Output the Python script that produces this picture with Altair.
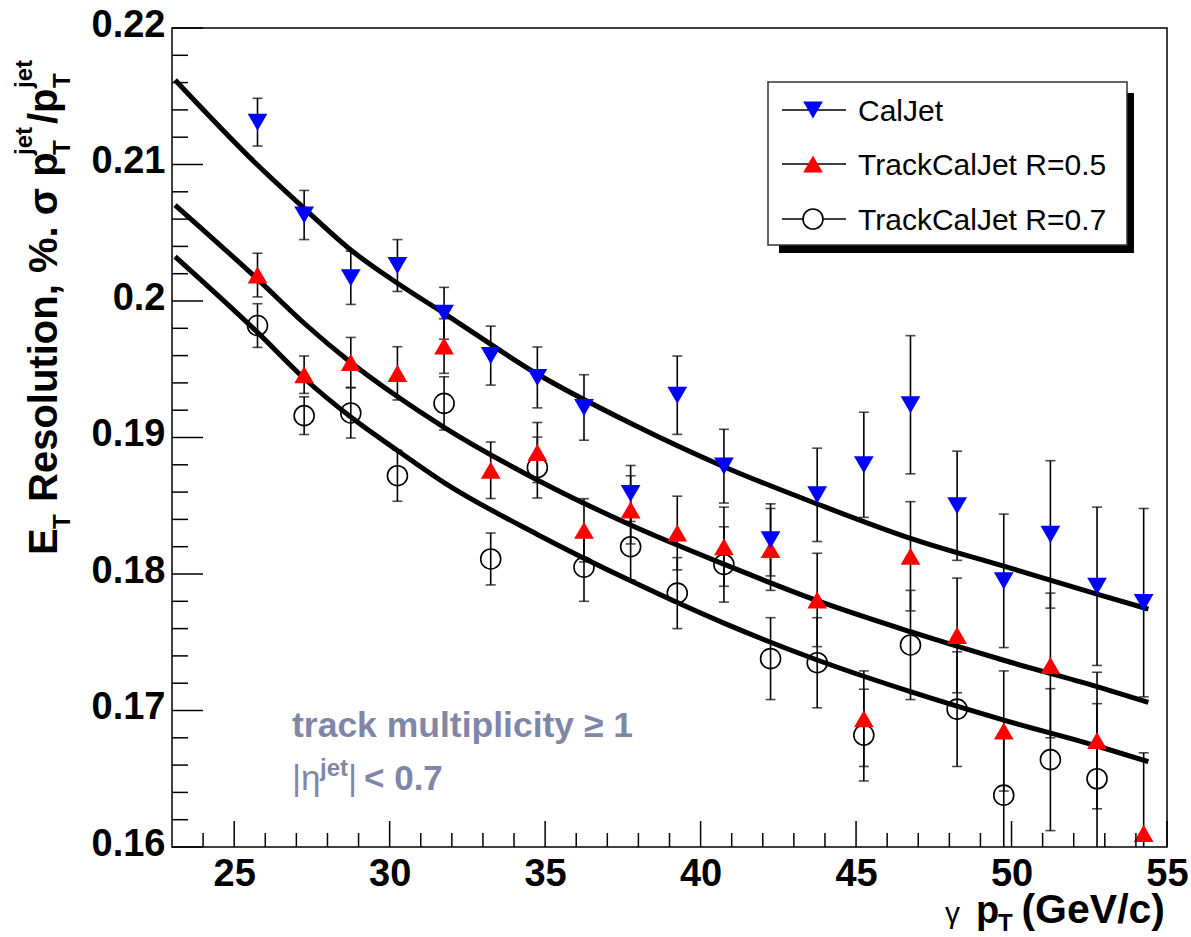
import altair as alt
import pandas as pd

# ---------------- data ----------------
pt_gamma = [25.75, 27.25, 28.75, 30.25, 31.75, 33.25, 34.75, 36.25, 37.75, 39.25,
            40.75, 42.25, 43.75, 45.25, 46.75, 48.25, 49.75, 51.25, 52.75, 54.25]

caljet = [0.2131, 0.2063, 0.2017, 0.2026, 0.1991, 0.1960, 0.1944, 0.1922, 0.1859, 0.1931,
          0.1879, 0.1825, 0.1858, 0.1880, 0.1924, 0.1850, 0.1795, 0.1829, 0.1791, 0.1779]
caljet_err = [0.00175, 0.0018, 0.00195, 0.0019, 0.0019, 0.00216, 0.00223, 0.0024, 0.00205, 0.00287,
              0.0027, 0.00264, 0.00342, 0.00385, 0.00506, 0.0040, 0.00489, 0.0054, 0.0058, 0.0069]

tcj05 = [0.2019, 0.1946, 0.1955, 0.1947, 0.1967, 0.1876, 0.1889, 0.1832, 0.1847, 0.1830,
         0.1820, 0.1818, 0.1781, 0.1694, 0.1813, 0.1755, 0.1685, 0.1733, 0.1678, 0.1610]
tcj05_err = [0.0016, 0.00137, 0.00183, 0.00195, 0.0020, 0.00207, 0.0022, 0.00232, 0.0025, 0.0027,
             0.0029, 0.0030, 0.00342, 0.0035, 0.0040, 0.0042, 0.0044, 0.0053, 0.0050, 0.0059]

tcj07 = [0.1982, 0.1916, 0.1918, 0.1872, 0.1925, 0.1811, 0.1878, 0.1805, 0.1820, 0.1786,
         0.1807, 0.1738, 0.1735, 0.1682, 0.1748, 0.1701, 0.1638, 0.1664, 0.1650]
tcj07_err = [0.0016, 0.00138, 0.00184, 0.00187, 0.00195, 0.0019, 0.00223, 0.0025, 0.00244, 0.0026,
             0.00276, 0.0030, 0.0033, 0.00336, 0.0040, 0.0042, 0.0045, 0.0052, 0.0055]

fit_x = [23.1, 25.75, 27.25, 28.75, 30.25, 31.75, 34.75, 37.75, 40.75, 43.75, 46.75, 49.75, 52.75, 54.4]
fit_caljet = [0.21619, 0.20996, 0.20679, 0.20374, 0.20130, 0.19910, 0.19465, 0.19104, 0.18786,
              0.18513, 0.18261, 0.18057, 0.17853, 0.17743]
fit_tcj05 = [0.20703, 0.20160, 0.19837, 0.19550, 0.19300, 0.19075, 0.18689, 0.18359, 0.18072,
             0.17805, 0.17577, 0.17368, 0.17175, 0.17060]
fit_tcj07 = [0.20325, 0.19770, 0.19434, 0.19150, 0.18905, 0.18670, 0.18290, 0.17950, 0.17640,
             0.17370, 0.17138, 0.16930, 0.16740, 0.16625]

series_names = ["CalJet", "TrackCalJet R=0.5", "TrackCalJet R=0.7"]

x_major = [25, 30, 35, 40, 45, 50, 55]
x_minor = [24, 26, 27, 28, 29, 31, 32, 33, 34, 36, 37, 38, 39, 41, 42, 43, 44,
           46, 47, 48, 49, 51, 52, 53, 54]
y_major = [0.16, 0.17, 0.18, 0.19, 0.20, 0.21, 0.22]
y_minor = [0.162, 0.164, 0.166, 0.168, 0.172, 0.174, 0.176, 0.178, 0.182, 0.184, 0.186, 0.188,
           0.192, 0.194, 0.196, 0.198, 0.202, 0.204, 0.206, 0.208, 0.212, 0.214, 0.216, 0.218]

# ---------------- layout ----------------
W, H = 995, 819
OX, OY = 172, 28
FONT = "Liberation Sans"
NOTE_COLOR = "#7f86a8"

xs = alt.Scale(domain=[23, 55], nice=False, zero=False)
ys = alt.Scale(domain=[0.16, 0.22], nice=False, zero=False)

def pts_frame(vals, errs, name):
    return pd.DataFrame({
        "x": pt_gamma[:len(vals)],
        "y": vals,
        "lo": [v - e for v, e in zip(vals, errs)],
        "hi": [v + e for v, e in zip(vals, errs)],
        "series": name,
    })

d_cal = pts_frame(caljet, caljet_err, series_names[0])
d_05 = pts_frame(tcj05, tcj05_err, series_names[1])
d_07 = pts_frame(tcj07, tcj07_err, series_names[2])
d_all = pd.concat([d_cal, d_05, d_07], ignore_index=True)

fits = pd.concat([
    pd.DataFrame({"x": fit_x, "y": fit_caljet, "series": series_names[0]}),
    pd.DataFrame({"x": fit_x, "y": fit_tcj05, "series": series_names[1]}),
    pd.DataFrame({"x": fit_x, "y": fit_tcj07, "series": series_names[2]}),
], ignore_index=True)

X = alt.X("x:Q", scale=xs, axis=alt.Axis(
    values=x_major, title=None, ticks=False, domain=False, grid=False,
    labelFont=FONT, labelFontWeight="bold", labelFontSize=38, labelColor="black",
    labelPadding=8, labelFlush=False))
Y = alt.Y("y:Q", scale=ys, axis=alt.Axis(
    values=y_major, title=None, ticks=False, domain=False, grid=False, format="~g",
    labelFont=FONT, labelFontWeight="bold", labelFontSize=38, labelColor="black",
    labelPadding=7, labelFlush=False, labelOffset=-3))

fit_layer = alt.Chart(fits).mark_line(color="black", strokeWidth=5, interpolate="monotone").encode(
    x=X, y=Y, detail="series:N")

err_layer = alt.Chart(d_all).mark_rule(color="black", strokeWidth=1.6, clip=True).encode(
    x=alt.X("x:Q", scale=xs), y=alt.Y("lo:Q", scale=ys), y2="hi:Q")
cap_lo = alt.Chart(d_all).mark_tick(orient="horizontal", size=10, thickness=1.6, color="black",
                                    clip=True).encode(x=alt.X("x:Q", scale=xs), y=alt.Y("lo:Q", scale=ys))
cap_hi = alt.Chart(d_all).mark_tick(orient="horizontal", size=10, thickness=1.6, color="black",
                                    clip=True).encode(x=alt.X("x:Q", scale=xs), y=alt.Y("hi:Q", scale=ys))

m_cal = alt.Chart(d_cal).mark_point(shape="triangle-down", filled=True, color="#0000ff", size=390,
                                    opacity=1, clip=True).encode(x=alt.X("x:Q", scale=xs), y=alt.Y("y:Q", scale=ys))
m_05 = alt.Chart(d_05).mark_point(shape="triangle-up", filled=True, color="#ff0000", size=390,
                                  opacity=1, clip=True).encode(x=alt.X("x:Q", scale=xs), y=alt.Y("y:Q", scale=ys))
m_07 = alt.Chart(d_07).mark_point(shape="circle", filled=False, color="black", size=400, strokeWidth=1.6,
                                  opacity=1, clip=True).encode(x=alt.X("x:Q", scale=xs), y=alt.Y("y:Q", scale=ys))

# inward ticks (ROOT style)
tx_maj = alt.Chart(pd.DataFrame({"v": x_major})).mark_rule(color="black", strokeWidth=1.5).encode(
    x=alt.X("v:Q", scale=xs), y=alt.value(H), y2=alt.value(H - 26))
tx_min = alt.Chart(pd.DataFrame({"v": x_minor})).mark_rule(color="black", strokeWidth=1.5).encode(
    x=alt.X("v:Q", scale=xs), y=alt.value(H), y2=alt.value(H - 14))
ty_maj = alt.Chart(pd.DataFrame({"v": y_major})).mark_rule(color="black", strokeWidth=1.5).encode(
    y=alt.Y("v:Q", scale=ys), x=alt.value(0), x2=alt.value(31))
ty_min = alt.Chart(pd.DataFrame({"v": y_minor})).mark_rule(color="black", strokeWidth=1.5).encode(
    y=alt.Y("v:Q", scale=ys), x=alt.value(0), x2=alt.value(16))


def txt(label, xa, ya, size, weight="bold", angle=0, align="left", color="black", baseline="alphabetic"):
    kw = dict(font=FONT, fontSize=size, fontWeight=weight, align=align, baseline=baseline, color=color)
    if angle:
        kw["angle"] = angle
    return alt.Chart(pd.DataFrame({"t": [label]})).mark_text(**kw).encode(
        x=alt.value(xa - OX), y=alt.value(ya - OY), text="t:N")

# y-axis title (rotated, composed from pieces)
ytitle = [
    txt("E", 57, 555, 40, angle=270),
    txt("T", 70, 529, 24, angle=270),
    txt("Resolution, %. σ p", 57, 502, 40, angle=270),
    txt("T", 70, 155, 24, angle=270),
    txt("jet", 32, 155, 24, angle=270),
    txt("/p", 57, 124, 40, angle=270),
    txt("T", 70, 88, 24, angle=270),
    txt("jet", 32, 88, 24, angle=270),
]

# x-axis title
xtitle = [
    txt("γ", 945, 923, 30, weight="normal"),
    txt("p", 976, 923, 38),
    txt("T", 998, 931, 24),
    txt("(GeV/c)", 1165, 923, 41, align="right"),
]

# annotation
notes = [
    txt("track multiplicity ≥ 1", 292, 737, 35.5, color=NOTE_COLOR),
    txt("|η", 292, 790, 35, weight="normal", color=NOTE_COLOR),
    txt("jet", 320, 776, 24, color=NOTE_COLOR),
    txt("|", 348, 790, 35, weight="normal", color=NOTE_COLOR),
    txt("< 0.7", 364, 790, 35, color=NOTE_COLOR),
]

# legend (box with shadow)
one = pd.DataFrame({"a": [0]})
leg_shadow = alt.Chart(one).mark_rect(color="black").encode(
    x=alt.value(779 - OX), x2=alt.value(1134 - OX), y=alt.value(93 - OY), y2=alt.value(253 - OY))
leg_box = alt.Chart(one).mark_rect(fill="white", stroke="#333333", strokeWidth=1.5).encode(
    x=alt.value(768 - OX), x2=alt.value(1127 - OX), y=alt.value(82 - OY), y2=alt.value(245 - OY))
leg_rows = [110, 164, 219]
leg_layers = [leg_shadow, leg_box]
shapes = [("triangle-down", "#0000ff", True, 390), ("triangle-up", "#ff0000", True, 390), ("circle", "black", False, 400)]
for name, ry, (shp, col, fil, sz) in zip(series_names, leg_rows, shapes):
    leg_layers.append(alt.Chart(one).mark_rule(color="black", strokeWidth=1.5).encode(
        x=alt.value(782 - OX), x2=alt.value(846 - OX), y=alt.value(ry - OY)))
    if fil:
        mk = alt.Chart(one).mark_point(shape=shp, filled=True, color=col, size=sz, opacity=1)
    else:
        mk = alt.Chart(one).mark_point(shape=shp, filled=False, color=col, size=sz, strokeWidth=1.6,
                                       fill="white", fillOpacity=1, opacity=1)
    leg_layers.append(mk.encode(x=alt.value(813 - OX), y=alt.value(ry - OY)))
    leg_layers.append(txt(name, 858, ry + 11, 30, weight="normal"))

chart = alt.layer(
    fit_layer, err_layer, cap_lo, cap_hi, m_07, m_05, m_cal,
    tx_maj, tx_min, ty_maj, ty_min,
    *ytitle, *xtitle, *notes, *leg_layers,
).properties(
    width=W, height=H,
    autosize=alt.AutoSizeParams(type="none"),
    padding={"left": OX, "top": OY, "right": 1191 - OX - W, "bottom": 937 - OY - H},
    background="white",
).configure_view(stroke="black", strokeWidth=1.5)

chart.save("out.html", embed_options={"renderer": "svg", "actions": False})
